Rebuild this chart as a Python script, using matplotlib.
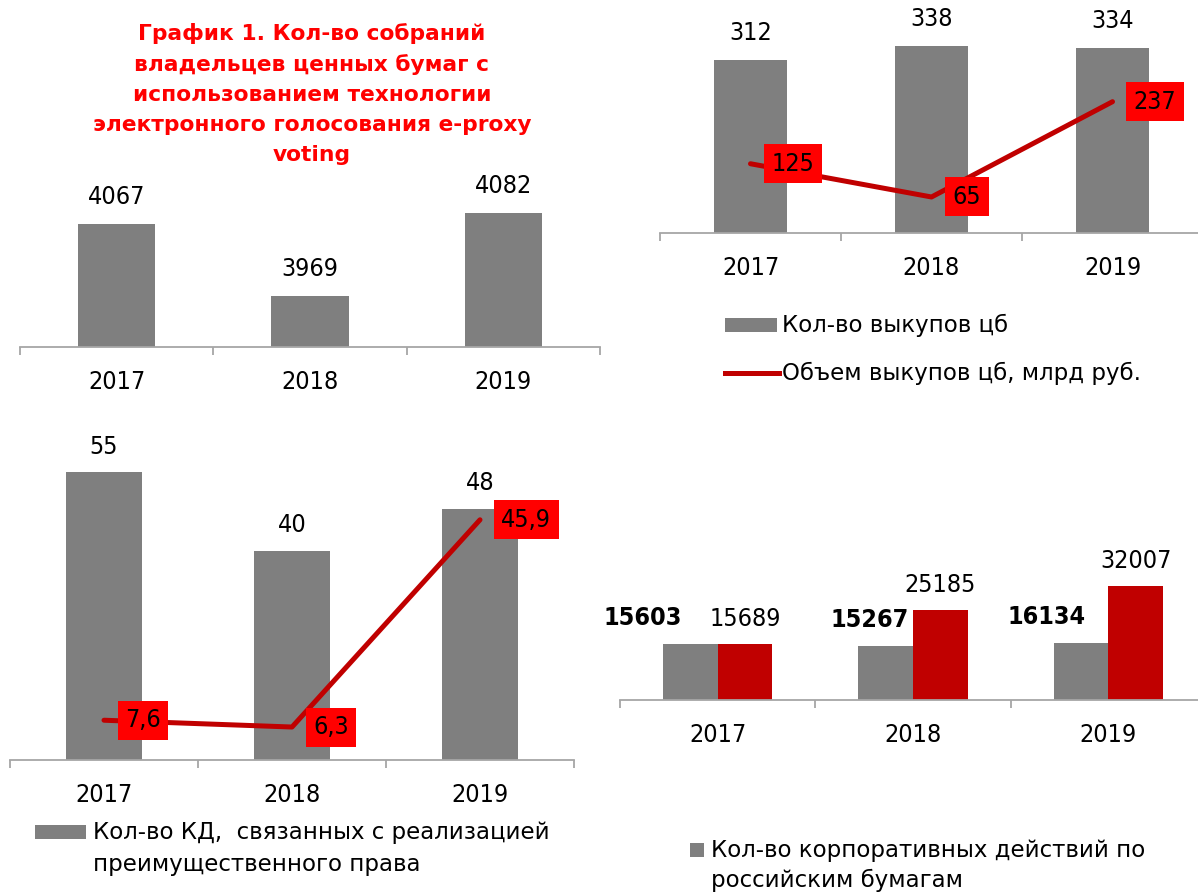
import matplotlib.pyplot as plt
from matplotlib.patches import Rectangle
from matplotlib.lines import Line2D

plt.rcParams['font.family'] = ['DejaVu Sans']

# data
years = ['2017', '2018', '2019']
meetings = [4067, 3969, 4082]
buyback_count = [312, 338, 334]
buyback_volume = [125, 65, 237]
buyback_volume_labels = ['125', '65', '237']
preempt_count = [55, 40, 48]
preempt_volume = [7.6, 6.3, 45.9]
preempt_volume_labels = ['7,6', '6,3', '45,9']
ca_actions = [15603, 15267, 16134]
ca_other = [15689, 25185, 32007]

title1 = ('График 1. Кол-во собраний\nвладельцев ценных бумаг с\nиспользованием технологии\n'
          'электронного голосования e-proxy\nvoting')

GRAY = '#7F7F7F'
DARK_RED = '#C00000'
RED = '#FF0000'
AXIS = '#A6A6A6'

W, H = 1198, 894
fig = plt.figure(figsize=(W / 100, H / 100), dpi=100)
PT = 0.72  # points per pixel
NUM = dict(fontsize=18, fontstretch='condensed')


def px_axes(left, right, top, bottom):
    ax = fig.add_axes([left / W, 1 - bottom / H, (right - left) / W, (bottom - top) / H])
    ax.patch.set_visible(False)
    for s in ['left', 'right', 'top']:
        ax.spines[s].set_visible(False)
    ax.spines['bottom'].set_color(AXIS)
    ax.spines['bottom'].set_linewidth(1.3)
    ax.set_yticks([])
    ax.set_xlim(-0.5, 2.5)
    ax.set_xticks([-0.5, 0.5, 1.5, 2.5])
    ax.set_xticklabels([])
    ax.tick_params(axis='x', length=6, width=1.3, color=AXIS, direction='out')
    for i, y in enumerate(years):
        ax.annotate(y, xy=(i, 0), xycoords=('data', 'axes fraction'),
                    xytext=(0, -35 * PT), textcoords='offset points',
                    ha='center', va='center', **NUM)
    return ax


def value_labels(ax, xs, vals, dy, dxs=None, **kw):
    for j, (x, v) in enumerate(zip(xs, vals)):
        dx = dxs[j] if dxs else 0
        ax.annotate(str(v), xy=(x, v), xytext=(dx * PT, dy * PT), textcoords='offset points',
                    ha='center', va='center', **NUM, **kw)


def box_labels(ax, xs, vals, texts):
    for x, v, t in zip(xs, vals, texts):
        ax.annotate(t, xy=(x, v), xytext=(21 * PT, 0), textcoords='offset points',
                    ha='left', va='center', **NUM,
                    bbox=dict(boxstyle='square,pad=0.3', fc=RED, ec='none'))


def ftext(x, y, s, **kw):
    fig.text(x / W, 1 - y / H, s, **kw)


def frect(x0, x1, y0, y1, color):
    fig.add_artist(Rectangle((x0 / W, 1 - y1 / H), (x1 - x0) / W, (y1 - y0) / H,
                             transform=fig.transFigure, fc=color, ec='none'))


def fline(x0, x1, y, color, lw):
    fig.add_artist(Line2D([x0 / W, x1 / W], [1 - y / H, 1 - y / H],
                          transform=fig.transFigure, color=color, lw=lw))


x = list(range(len(years)))
LEG = dict(ha='left', va='center', fontsize=16.5)

# panel 1: meetings with e-proxy voting
ax1 = px_axes(20, 600, 200, 347)
ax1.bar(x, meetings, width=0.4, color=GRAY)
ax1.set_ylim(3900, 4100)
value_labels(ax1, x, meetings, 27)
ftext(312, 94, title1, ha='center', va='center', color=RED, fontsize=15.7,
      fontweight='bold', linespacing=1.62)

# panel 2: buybacks
ax2 = px_axes(660, 1203, 11.4, 233)
ax2.bar(x, buyback_count, width=0.4, color=GRAY)
ax2.plot(x, buyback_volume, color=DARK_RED, lw=3.6, solid_capstyle='round')
ax2.set_ylim(0, 400)
value_labels(ax2, x, buyback_count, 27)
box_labels(ax2, x, buyback_volume, buyback_volume_labels)
frect(725, 777, 318, 332, GRAY)
ftext(782, 325, 'Кол-во выкупов цб', **LEG)
fline(725, 779, 373, DARK_RED, 3.6)
ftext(782, 373, 'Объем выкупов цб, млрд руб.', **LEG)

# panel 3: pre-emptive rights
ax3 = px_axes(10, 574, 446, 760)
ax3.bar(x, preempt_count, width=0.4, color=GRAY)
ax3.plot(x, preempt_volume, color=DARK_RED, lw=3.6, solid_capstyle='round')
ax3.set_ylim(0, 60)
value_labels(ax3, x, preempt_count, 25.5)
box_labels(ax3, x, preempt_volume, preempt_volume_labels)
frect(35, 86, 825, 839, GRAY)
ftext(93, 832, 'Кол-во КД,  связанных с реализацией', **LEG)
ftext(93, 865, 'преимущественного права', **LEG)

# panel 4: corporate actions
ax4 = px_axes(620, 1206, 575.4, 700)
xa = [i - 0.14 for i in x]
xb = [i + 0.14 for i in x]
ax4.bar(xa, ca_actions, width=0.28, color=GRAY)
ax4.bar(xb, ca_other, width=0.28, color=DARK_RED)
ax4.set_ylim(0, 35000)
value_labels(ax4, xa, ca_actions, 26, dxs=[-48, -16.5, -34], fontweight='bold')
value_labels(ax4, xb, ca_other, 25)
frect(690, 704, 843, 857, GRAY)
ftext(711, 850, 'Кол-во корпоративных действий по', **LEG)
ftext(711, 880, 'российским бумагам', **LEG)

plt.savefig('out.png', dpi=100)
